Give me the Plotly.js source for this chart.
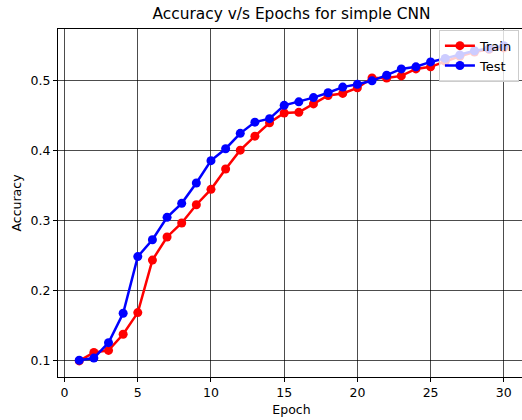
<!DOCTYPE html>
<html>
<head>
<meta charset="utf-8">
<script src="https://cdn.plot.ly/plotly-3.0.1.min.js"></script>
<style>
html,body{margin:0;padding:0;overflow:hidden;background:#fff;}
#chart{width:527px;height:420px;}
</style>
</head>
<body>
<div id="chart"></div>
<script>
const epochs = [1,2,3,4,5,6,7,8,9,10,11,12,13,14,15,16,17,18,19,20,21,22,23,24,25,26,27,28,29,30];
const trainAcc = [0.100,0.112,0.115,0.138,0.169,0.244,0.277,0.297,0.323,0.345,0.374,0.401,0.421,0.440,0.454,0.455,0.467,0.479,0.482,0.490,0.504,0.504,0.507,0.517,0.520,0.528,0.535,0.541,0.545,0.547];
const testAcc = [0.101,0.104,0.126,0.168,0.249,0.273,0.305,0.325,0.354,0.386,0.403,0.425,0.441,0.446,0.465,0.470,0.476,0.483,0.491,0.495,0.500,0.508,0.517,0.520,0.527,0.532,0.537,0.543,0.546,0.550];
const xTicks = [0,5,10,15,20,25,30];
const yTicks = [0.1,0.2,0.3,0.4,0.5];

const font = {family:'DejaVu Sans', size:12.5, color:'#000'};
const traces = [
  {x:epochs, y:trainAcc, name:'Train', mode:'lines+markers',
   line:{color:'#ff0000', width:2.5}, marker:{color:'#ff0000', size:9}},
  {x:epochs, y:testAcc, name:'Test', mode:'lines+markers',
   line:{color:'#0000ff', width:2.5}, marker:{color:'#0000ff', size:9}}
];
const axisCommon = {
  showline:true, linecolor:'#000', linewidth:1, mirror:true,
  ticks:'outside', ticklen:4, tickcolor:'#000', tickwidth:1,
  showgrid:true, gridcolor:'rgba(0,0,0,0.7)', gridwidth:1,
  zeroline:false, tickfont:font
};
const layout = {
  width:527, height:420,
  margin:{l:58, r:2, t:29, b:43},
  paper_bgcolor:'#fff', plot_bgcolor:'#fff',
  font:font,
  title:{text:'Accuracy v/s Epochs for simple CNN', font:{family:'DejaVu Sans', size:15.4, color:'#000'}, x:0.5, xanchor:'center', xref:'paper', y:0.968, yanchor:'middle', yref:'container'},
  xaxis:Object.assign({}, axisCommon, {range:[-0.45,31.45], tickvals:xTicks, ticktext:xTicks.map(String),
    title:{text:'Epoch', font:font, standoff:6}}),
  yaxis:Object.assign({}, axisCommon, {range:[0.077,0.574], tickvals:yTicks, ticktext:yTicks.map(v=>v.toFixed(1)),
    title:{text:'Accuracy', font:font, standoff:6}}),
  showlegend:true,
  legend:{x:0.987, xanchor:'right', y:0.998, yanchor:'top', bgcolor:'rgba(255,255,255,0.8)', bordercolor:'#cccccc', borderwidth:1, font:{family:'DejaVu Sans', size:13, color:'#000'}, tracegroupgap:0, itemwidth:30}
};
Plotly.newPlot('chart', traces, layout, {displayModeBar:false, staticPlot:true});
</script>
</body>
</html>
